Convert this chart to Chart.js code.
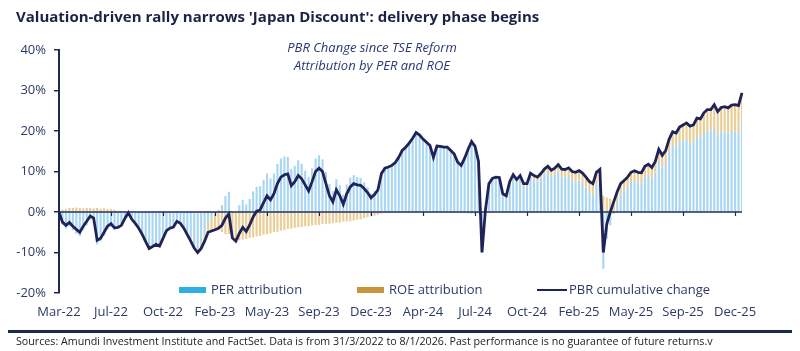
<!DOCTYPE html>
<html>
<head>
<meta charset="utf-8">
<script src="https://cdn.jsdelivr.net/npm/chart.js@4.4.1/dist/chart.umd.min.js"></script>
<style>
  body { margin: 0; background: #fff; font-family: "Open Sans", sans-serif; }
  #wrap { position: relative; width: 800px; height: 351px; overflow: hidden; }
  #chart { position: absolute; left: 0; top: 0; }
  .title { position: absolute; left: 16px; top: 6px; font-size: 15px; font-weight: bold; color: #1b2245; white-space: nowrap; }
  .sub { position: absolute; left: 272px; width: 200px; top: 38px; text-align: center; font-size: 13px; font-style: italic; color: #2b3775; line-height: 18px; }
  .leg { position: absolute; top: 280px; font-size: 13px; color: #2d3a66; white-space: nowrap; line-height: 18px; }
  .leg i { display: inline-block; vertical-align: middle; margin-right: 5px; position: relative; top: -1px; }
  .rule { position: absolute; left: 8px; width: 784px; top: 330px; height: 3px; background: #1b2a4e; }
  .src { position: absolute; left: 16px; top: 334px; font-size: 10.7px; color: #222; white-space: nowrap; }
</style>
</head>
<body>
<div id="wrap">
  <canvas id="chart" width="800" height="351"></canvas>
  <div class="title">Valuation-driven rally narrows 'Japan Discount': delivery phase begins</div>
  <div class="sub">PBR Change since TSE Reform<br>Attribution by PER and ROE</div>
  <div class="leg" style="left:179px"><i style="width:27px;height:6px;background:#2bb0e2"></i>PER attribution</div>
  <div class="leg" style="left:357px"><i style="width:27px;height:6px;background:#c9953c"></i>ROE attribution</div>
  <div class="leg" style="left:537px"><i style="width:30px;height:2px;background:#1f2358;margin-right:2px"></i>PBR cumulative change</div>
  <div class="rule"></div>
  <div class="src">Sources: Amundi Investment Institute and FactSet. Data is from 31/3/2022 to 8/1/2026. Past performance is no guarantee of future returns.v</div>
</div>
<script>
// weekly points, 31/3/2022 -> 8/1/2026
const tickLabels = ['Mar-22','Jul-22','Oct-22','Feb-23','May-23','Sep-23','Dec-23','Apr-24','Jul-24','Oct-24','Feb-25','May-25','Sep-25','Dec-25'];
const tickEvery = 15;
const nWeeks = 198;

const pbr = [
  0,-2.5,-3.3,-2.6,-3.5,-4.3,-5,-3.5,-2.3,-1,
  -1.5,-7,-6.5,-5,-3.5,-2.9,-3.9,-3.8,-3.3,-1.6,
  -0.2,-1.8,-2.8,-4,-5.5,-7.3,-9,-8.5,-8,-8.4,
  -6.5,-4.6,-4,-3.7,-2.3,-2.8,-4,-5.6,-7.2,-8.9,
  -10,-9,-7.2,-5,-4.7,-4.4,-4,-3.3,-1.5,-0.5,
  -6.4,-7.2,-5.3,-3.8,-4.8,-3.2,-1.2,0.2,0.5,2.3,
  4,3,4.5,7,8.6,9.2,9.4,6.5,7.5,9,
  8.2,6.7,5.2,7.5,10,10.8,10,7,4,2.5,
  5.5,4,1.9,4.5,6.2,7,6.7,6.6,5.8,4.8,
  3.5,4.3,5.5,9.5,10.8,11.1,11.5,12.2,13.5,15.2,
  16,17,18.2,19.6,19,18,17.2,16.4,13.5,16.3,
  16.2,16,16,15.2,14.3,12.3,11.5,13.3,15.5,17.4,
  16.2,12.5,-10,0.5,7,8.3,8.6,8.5,4.5,4,
  7.5,9.2,8,9,7,7,9.6,9,8.6,9.5,
  10.6,11.3,10.3,10.8,11.7,10.6,10.5,10.9,10,9.8,
  10.2,9.6,8.6,7.5,7,9.8,10.5,-10,-3,0,
  2.5,5,7,7.8,8.6,9.8,10.2,9.8,9.7,11.3,
  11.8,11,12.5,15.5,14,15.2,18,19.8,19.5,21,
  21.5,22,21.2,21.5,23.2,23,24.5,25.3,25.3,26.5,
  24.8,25.8,26,25.7,26.4,26.5,26.3,29.4
];

const roe = [
  0.2,0.6,0.8,1,1,1.1,1,0.9,1,1,
  0.9,1,0.8,0.9,0.8,0.7,0.6,0.3,0.1,0,
  0,0,0.1,0,-0.1,0,0,-0.1,0,0,
  0,-0.1,0,0,-0.2,-0.2,-0.3,-0.4,-0.6,-0.8,
  -1,-1.5,-2,-2.5,-3.5,-4,-4.5,-5,-5.5,-5.5,
  -6.5,-7,-7,-6.8,-6.7,-6.4,-6.3,-6,-5.9,-5.6,
  -5.5,-5.3,-5,-4.9,-4.6,-4.5,-4.2,-4.1,-3.9,-3.8,
  -3.7,-3.5,-3.5,-3.3,-3.2,-3.2,-3,-2.9,-2.9,-2.7,
  -2.6,-2.6,-2.4,-2.3,-2.3,-2.1,-1.9,-1.8,-1.5,-1.3,
  -1.1,-0.9,-0.7,-0.4,-0.2,-0.1,0,0.1,0,0.1,
  0.1,0,0.2,0.1,0,0.1,0,-0.1,0,0,
  0,0.1,0,-0.1,-0.2,-0.2,-0.3,-0.3,-0.4,-0.5,
  -0.5,-0.4,-0.3,0,0.2,0.3,0.3,0.4,0.4,0.5,
  0.5,0.6,0.6,0.7,0.8,0.8,0.9,1,1.1,1.2,
  1.3,1.4,1.5,1.6,1.7,1.8,1.9,2,2.1,2.3,
  2.4,2.5,2.6,2.7,2.9,3,3.1,4,3.6,3.3,
  3,2.8,2.6,2.5,2.4,2.4,2.5,2.5,2.6,2.6,
  2.7,2.8,2.8,2.9,3,3.1,3.2,3.3,3.5,3.6,
  3.8,4,4.2,4.3,4.5,4.8,5,5.2,5.4,5.6,
  5.8,6,6.1,6.3,6.4,6.6,6.8,7
];

const per = [
  -0.2,-3.1,-4.1,-3.6,-4.5,-5.4,-6,-4.4,-3.3,-2,
  -2.4,-8,-7.3,-5.9,-4.3,-3.6,-4.5,-4.1,-3.4,-1.6,
  -0.2,-1.8,-2.9,-4,-5.4,-7.3,-9,-8.4,-8,-8.4,
  -6.5,-4.5,-4,-3.7,-2.1,-2.6,-3.7,-5.2,-6.6,-8.1,
  -9,-7.5,-5.2,-2.5,-1.2,-0.4,0.5,1.7,4,5,
  0.1,-0.2,1.7,3,1.9,3.2,5.1,6.2,6.4,7.9,
  9.5,8.3,9.5,11.9,13.2,13.7,13.6,10.6,11.4,12.8,
  11.9,10.2,8.7,10.8,13.2,14,13,9.9,6.9,5.2,
  8.1,6.6,4.3,6.8,8.5,9.1,8.6,8.4,7.3,6.1,
  4.6,5.2,6.2,9.9,11,11.2,11.5,12.1,13.5,15.1,
  15.9,17,18,19.5,19,17.9,17.2,16.5,13.5,16.3,
  16.2,15.9,16,15.3,14.5,12.5,11.8,13.6,15.9,17.9,
  16.7,12.9,-9.7,0.5,6.8,8,8.3,8.1,4.1,3.5,
  7,8.6,7.4,8.3,6.2,6.2,8.7,8,7.5,8.3,
  9.3,9.9,8.8,9.2,10,8.8,8.6,8.9,7.9,7.5,
  7.8,7.1,6,4.8,4.1,6.8,7.4,-14,-6.6,-3.3,
  -0.5,2.2,4.4,5.3,6.2,7.4,7.7,7.3,7.1,8.7,
  9.1,8.2,9.7,12.6,11,12.1,14.8,16.5,16,17.4,
  17.7,18,17,17.2,18.7,18.2,19.5,20.1,19.9,20.9,
  19,19.8,19.9,19.4,20,19.9,19.5,22.4
];

const labels = [];
for (let i = 0; i < nWeeks; i++) {
  labels.push(i % tickEvery === 0 ? tickLabels[i / tickEvery] : '');
}

const navy = '#1f2358';
const axisTxt = '#2d3a66';

// zero line with the little tick marks under it
const zeroAxis = {
  id: 'zeroAxis',
  afterDatasetsDraw(chart) {
    const ctx = chart.ctx, x = chart.scales.x, y = chart.scales.y;
    const y0 = y.getPixelForValue(0);
    ctx.save();
    ctx.strokeStyle = '#1e2a55';
    ctx.lineWidth = 1.6;
    ctx.beginPath();
    ctx.moveTo(chart.chartArea.left, y0);
    ctx.lineTo(chart.chartArea.right, y0);
    ctx.stroke();
    ctx.lineWidth = 1.2;
    for (let i = 0; i < nWeeks; i += tickEvery) {
      const px = Math.round(x.getPixelForValue(i)) + 0.5;
      ctx.beginPath();
      ctx.moveTo(px, y0);
      ctx.lineTo(px, y0 + 4);
      ctx.stroke();
    }
    ctx.restore();
  }
};

new Chart(document.getElementById('chart'), {
  type: 'bar',
  data: {
    labels: labels,
    datasets: [
      { type: 'line', label: 'PBR cumulative change', data: pbr, borderColor: navy, borderWidth: 2.8,
        pointRadius: 0, tension: 0, stack: 'pbr', order: 0 },
      { label: 'PER attribution', data: per, backgroundColor: '#a9d6f2', stack: 'attr', order: 1,
        categoryPercentage: 1, barPercentage: 0.62 },
      { label: 'ROE attribution', data: roe, backgroundColor: '#ebcd96', stack: 'attr', order: 1,
        categoryPercentage: 1, barPercentage: 0.62 }
    ]
  },
  options: {
    responsive: false,
    animation: false,
    layout: { padding: { left: 0, right: 58, top: 50, bottom: 0 } },
    plugins: { legend: { display: false }, tooltip: { enabled: false } },
    scales: {
      x: {
        stacked: true,
        offset: false,
        grid: { display: false, drawTicks: false },
        border: { display: false },
        ticks: { autoSkip: false, maxRotation: 0, padding: 11, color: axisTxt,
                 font: { family: 'Open Sans', size: 13 } },
        afterFit(s) { s.height = 58; }
      },
      y: {
        stacked: true,
        min: -20, max: 40,
        ticks: { stepSize: 10, padding: 8, color: axisTxt, font: { family: 'Open Sans', size: 13 },
                 callback: v => v + '%' },
        grid: { drawOnChartArea: false, drawTicks: true, tickLength: 5, color: '#1e2a55', lineWidth: 1.5 },
        border: { display: true, color: '#1e2a55', width: 2 },
        afterFit(s) { s.width = 59; }
      }
    }
  },
  plugins: [zeroAxis]
});
</script>
</body>
</html>
